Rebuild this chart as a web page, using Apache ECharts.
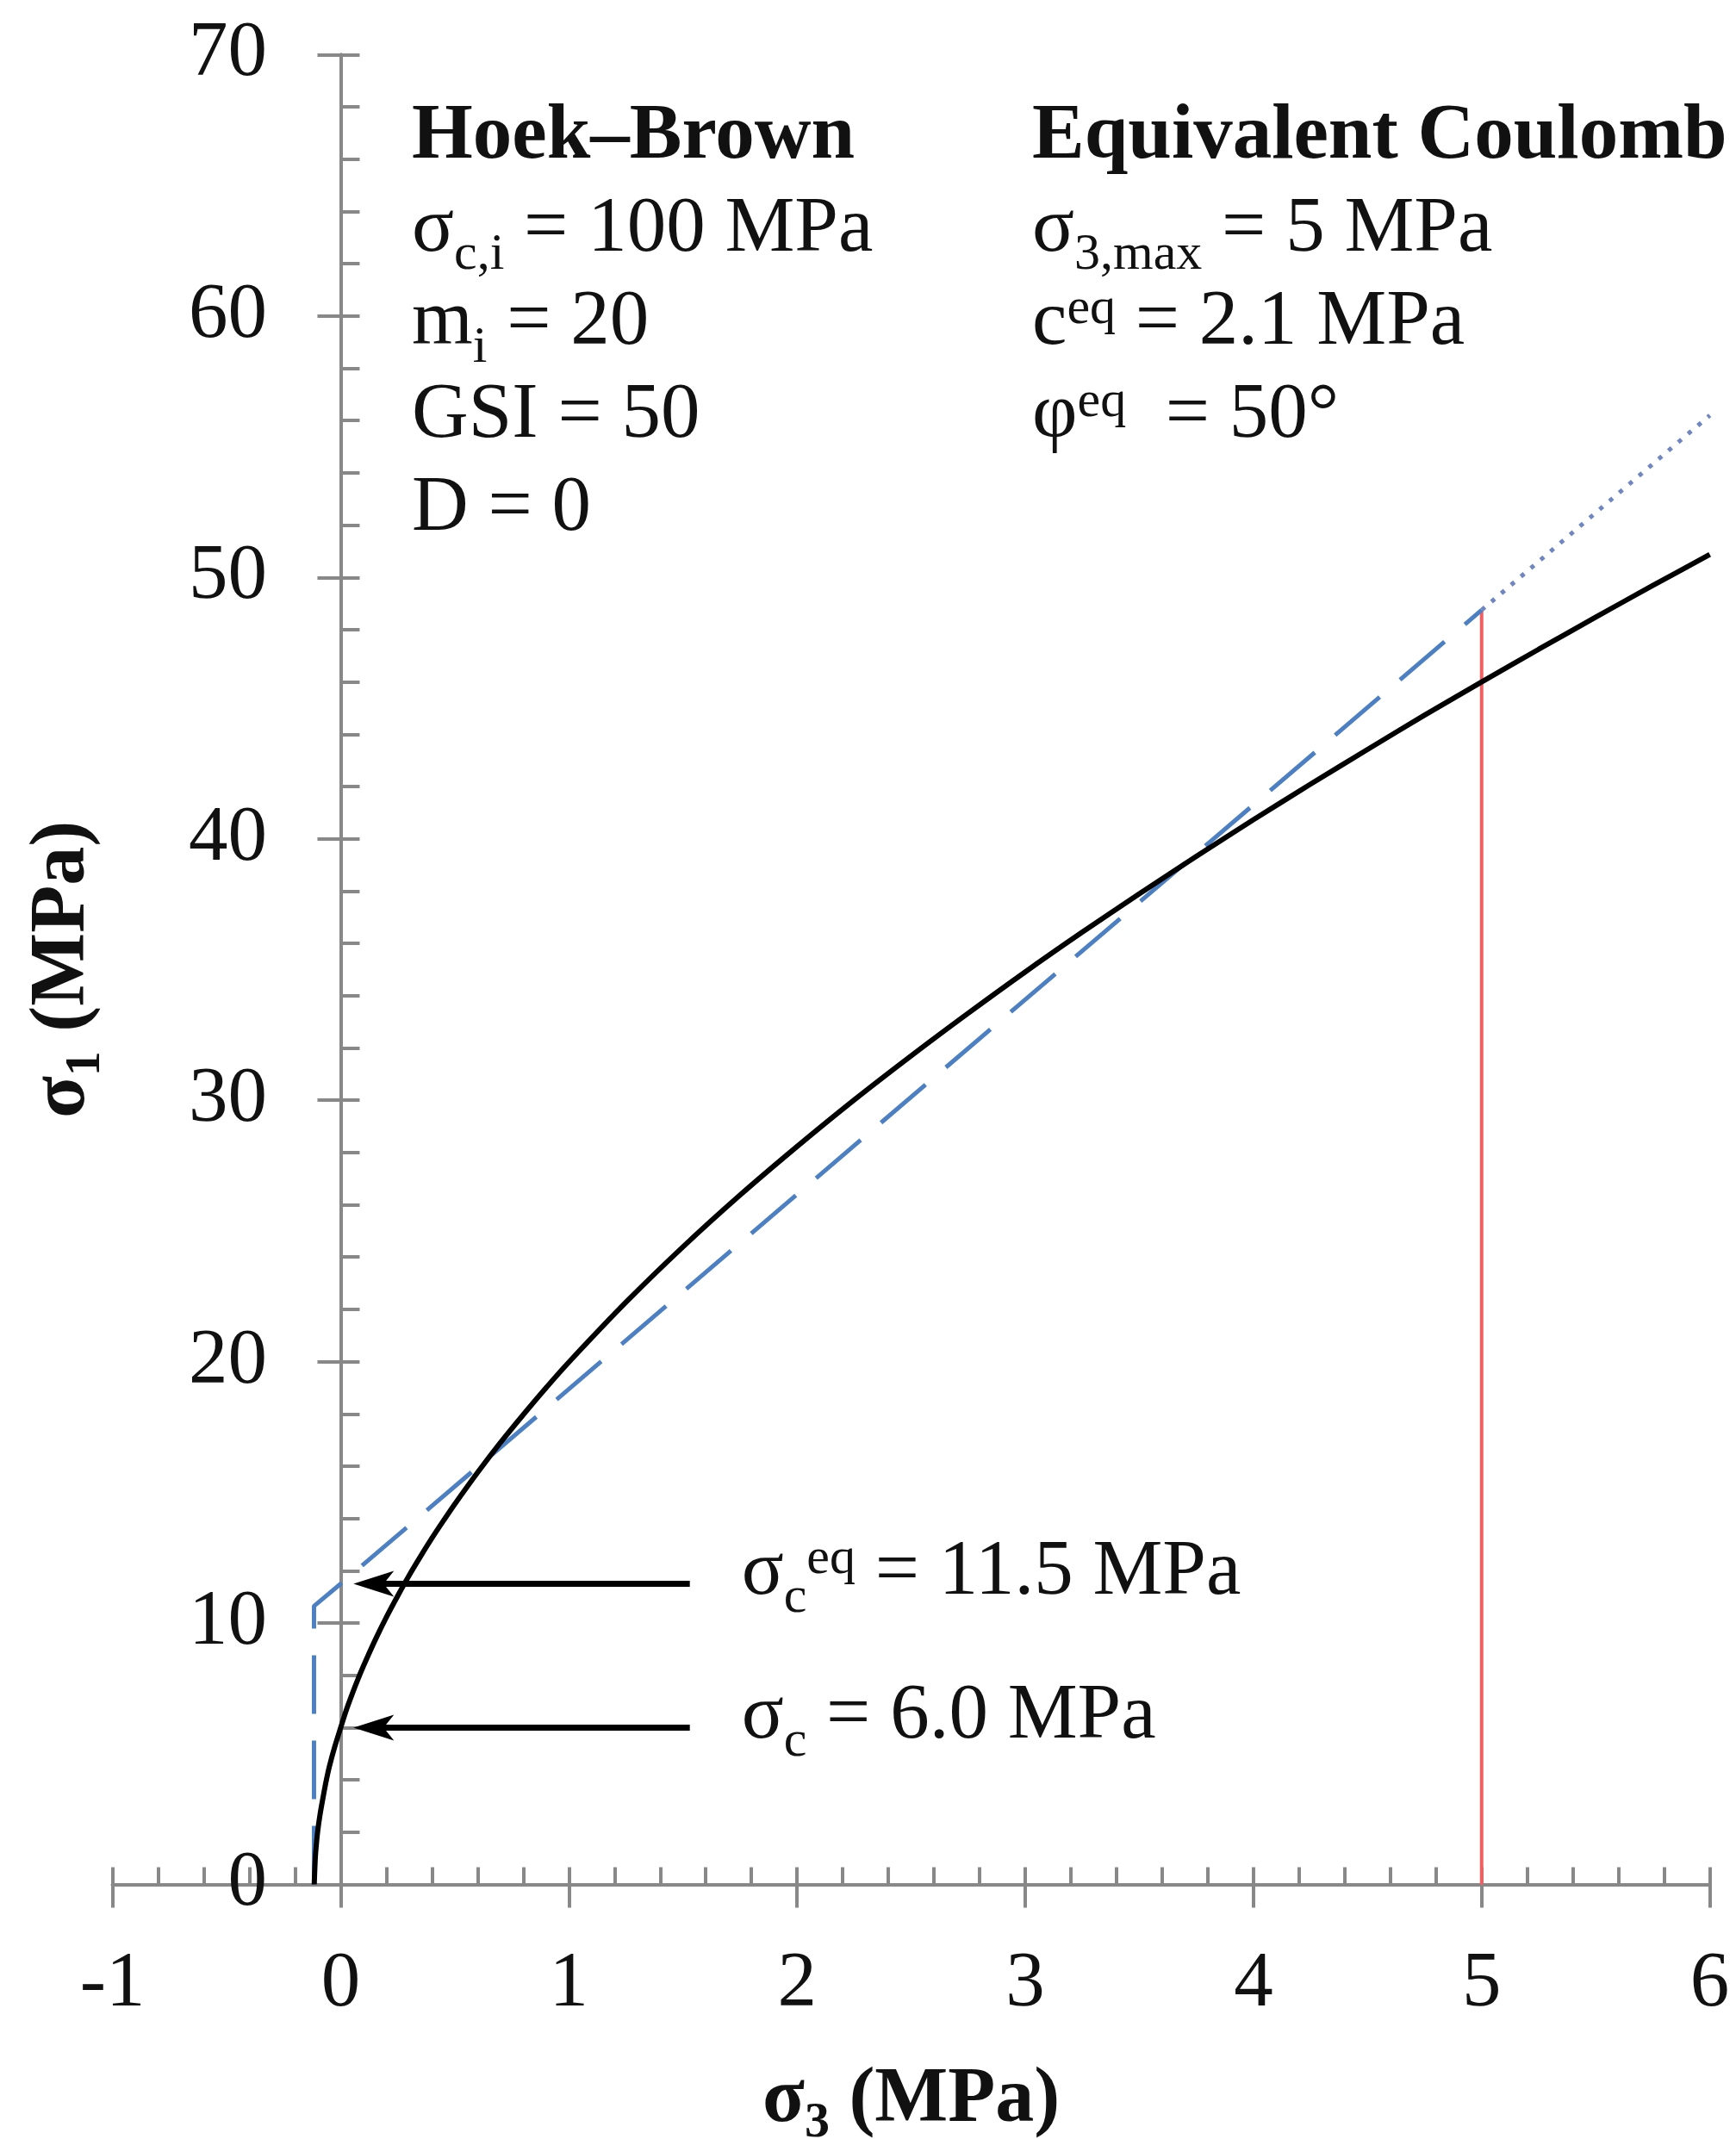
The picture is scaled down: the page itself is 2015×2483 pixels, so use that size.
<!DOCTYPE html>
<html>
<head>
<meta charset="utf-8">
<script src="https://cdn.jsdelivr.net/npm/echarts@6/dist/echarts.min.js"></script>
<style>
  html, body { margin: 0; padding: 0; background: #ffffff; }
  #chart { width: 2015px; height: 2483px; }
</style>
</head>
<body>
<div id="chart"></div>
<script>
// ---- tick values ----
const sigma3Ticks = [-1, 0, 1, 2, 3, 4, 5, 6];
const sigma1Ticks = [0, 10, 20, 30, 40, 50, 60, 70];

// ---- Hoek–Brown failure envelope (σ3, σ1) in MPa ----
const hoekBrownCurve = [
  [-0.116, 0], [-0.114, 0.5], [-0.112, 0.9], [-0.11, 1.2], [-0.105, 1.7],
  [-0.1, 2.1], [-0.09, 2.7], [-0.08, 3.2], [-0.065, 3.9], [-0.05, 4.5],
  [-0.025, 5.3], [0, 6.0], [0.025, 6.68], [0.05, 7.28], [0.075, 7.84],
  [0.1, 8.36], [0.15, 9.33], [0.2, 10.22], [0.25, 11.04], [0.3, 11.82],
  [0.35, 12.55], [0.4, 13.25], [0.45, 13.91], [0.5, 14.55], [0.6, 15.76],
  [0.7, 16.9], [0.8, 17.97], [0.9, 19.0], [1.0, 19.98], [1.25, 22.27],
  [1.5, 24.39], [1.75, 26.37], [2.0, 28.23], [2.25, 30.01], [2.5, 31.7],
  [2.75, 33.33], [3.0, 34.91], [3.25, 36.43], [3.5, 37.9], [3.75, 39.33],
  [4.0, 40.73], [4.25, 42.09], [4.5, 43.42], [4.75, 44.73], [5.0, 46.0],
  [5.25, 47.25], [5.5, 48.48], [5.75, 49.69], [6.0, 50.88]
];

// ---- equivalent Coulomb line with tension cut-off, fitted up to σ3,max ----
const coulombLine = [[-0.117, 0], [-0.117, 10.65], [0, 11.5], [5, 48.75]];
// ---- Coulomb line continued beyond σ3,max ----
const coulombExtension = [[5, 48.75], [6, 56.2]];
// ---- σ3,max marker ----
const sigma3MaxLine = [[5, 0], [5, 48.75]];

// ---- uniaxial strengths pointed at on the σ1 axis ----
const strengthValues = [11.5, 6.0];
const strengthSymbols = ['{m|σ}{sub|c}{sup|eq}', '{m|σ}{sub|c}'];
const arrowTail = 1.53;     // σ3 where the arrow shaft starts
const arrowShaftEnd = 0.15; // σ3 where the shaft meets the head
const arrowTip = 0.056;     // σ3 of the arrow tip

// ---- parameter blocks ----
const hoekBrownLines = [
  '{b|Hoek–Brown}',
  '{m|σ}{sub|c,i}{m| = 100 MPa}',
  '{m|m}{sub|i}{m| = 20}',
  '{m|GSI = 50}',
  '{m|D = 0}'
];
const coulombLines = [
  '{b|Equivalent Coulomb}',
  '{m|σ}{sub|3,max}{m| = 5 MPa}',
  '{m|c}{sup|eq}{m| = 2.1 MPa}',
  '{m|φ}{sup|eq}{m|  = 50°}'
];

// ---- styling ----
const SERIF = '"Liberation Serif", "Times New Roman", Times, serif';
const INK = '#111111';
const AXIS_GRAY = '#888888';
const MID = 0.263;           // canvas "middle" baseline height above the alphabetic baseline (em)
const F = 91;                // body text size
const FS = 60;               // sub/superscript size

// Rich styles that put sub- and superscripts at fixed offsets from the baseline.
function scriptRich(size, subSize, weight, subDrop, supRise) {
  const base = size / 2 + size * MID;
  const subHalf = size - (base + subDrop - subSize * MID);
  const supHalf = base - supRise - subSize * MID;
  const font = { fontFamily: SERIF, color: INK, fill: INK };
  return {
    m: Object.assign({}, font, { fontSize: size, fontWeight: 'normal', lineHeight: size }),
    b: Object.assign({}, font, { fontSize: size, fontWeight: 'bold', lineHeight: size }),
    sub: Object.assign({}, font, { fontSize: subSize, fontWeight: weight, height: 2 * subHalf, lineHeight: 2 * subHalf, verticalAlign: 'bottom' }),
    sup: Object.assign({}, font, { fontSize: subSize, fontWeight: weight, height: 2 * supHalf, lineHeight: 2 * supHalf, verticalAlign: 'top' })
  };
}
const bodyRich = scriptRich(F, FS, 'normal', 21, 24);
const titleRich = scriptRich(90, 58, 'bold', 18, 0);

// Parameter text blocks: one text element per line, placed by baseline.
const colX = [478, 1198];
const firstBaseline = 183;
const lineStep = 108;
function blockElements(lines, x) {
  return lines.map((txt, i) => ({
    type: 'text',
    x: x,
    y: firstBaseline + i * lineStep - (F / 2 + F * MID),
    silent: true,
    style: {
      text: txt,
      rich: bodyRich,
      align: 'left',
      verticalAlign: 'top',
      fill: INK,
      fontFamily: SERIF,
      fontSize: F
    }
  }));
}

const GRID = { left: 130.6, right: 30.4, top: 63.4, bottom: 295.5 };
const axisLine = { color: AXIS_GRAY, width: 4 };
const xRange = { min: sigma3Ticks[0], max: sigma3Ticks[sigma3Ticks.length - 1], interval: sigma3Ticks[1] - sigma3Ticks[0] };
const yRange = { min: sigma1Ticks[0], max: sigma1Ticks[sigma1Ticks.length - 1], interval: sigma1Ticks[1] - sigma1Ticks[0] };
const tickFont = { fontFamily: SERIF, fontSize: F, color: INK };
// arrow head pointing left, tip at the left middle of its box
const ARROW_HEAD = 'path://M0,15 L47,0 L35,15 L47,30 Z';

const chart = echarts.init(document.getElementById('chart'), null, { renderer: 'canvas' });

chart.setOption({
  animation: false,
  backgroundColor: '#ffffff',
  textStyle: { fontFamily: SERIF },
  grid: Object.assign({ containLabel: false, outerBoundsMode: 'none' }, GRID),
  xAxis: [
    {
      type: 'value', position: 'bottom',
      min: xRange.min, max: xRange.max, interval: xRange.interval,
      axisLine: { show: true, onZero: true, lineStyle: axisLine },
      axisTick: { show: true, inside: true, length: 20, lineStyle: axisLine },
      minorTick: { show: true, splitNumber: 5, length: 20, lineStyle: axisLine },
      axisLabel: Object.assign({ show: true, margin: 71, showMinLabel: true, showMaxLabel: true }, tickFont),
      splitLine: { show: false }, minorSplitLine: { show: false },
      name: '{b|σ}{sub|3}{b| (MPa)}',
      nameLocation: 'middle', nameGap: 206, nameMoveOverlap: false,
      nameTextStyle: { fontFamily: SERIF, fontSize: 90, fontWeight: 'bold', color: INK, rich: titleRich }
    },
    {
      type: 'value', position: 'bottom',
      min: xRange.min, max: xRange.max, interval: xRange.interval,
      axisLine: { show: true, onZero: true, onZeroAxisIndex: 0, lineStyle: axisLine },
      axisTick: { show: true, inside: false, length: 27, lineStyle: axisLine },
      minorTick: { show: false },
      axisLabel: { show: false },
      splitLine: { show: false }
    }
  ],
  yAxis: [
    {
      type: 'value', position: 'left',
      min: yRange.min, max: yRange.max, interval: yRange.interval,
      axisLine: { show: true, onZero: true, lineStyle: axisLine },
      axisTick: { show: true, inside: true, length: 22, lineStyle: axisLine },
      minorTick: { show: true, splitNumber: 5, length: 22, lineStyle: axisLine },
      // labels are laid out from the grid's left edge; shift them next to the σ3 = 0 line
      axisLabel: Object.assign({ show: true, margin: GRID.left - 310, padding: [14, 0, 0, 0], showMinLabel: true, showMaxLabel: true }, tickFont),
      splitLine: { show: false }, minorSplitLine: { show: false },
      name: '{b|σ}{sub|1}{b| (MPa)}',
      nameLocation: 'middle', nameGap: GRID.left - 118.3, nameMoveOverlap: false,
      nameTextStyle: { fontFamily: SERIF, fontSize: 90, fontWeight: 'bold', color: INK, rich: titleRich }
    },
    {
      type: 'value', position: 'left',
      min: yRange.min, max: yRange.max, interval: yRange.interval,
      axisLine: { show: true, onZero: true, onZeroAxisIndex: 0, lineStyle: axisLine },
      axisTick: { show: true, inside: false, length: 27, lineStyle: axisLine },
      minorTick: { show: false },
      axisLabel: { show: false },
      splitLine: { show: false }
    }
  ],
  series: [
    {
      name: 'σ3,max', type: 'line', data: sigma3MaxLine,
      showSymbol: false, silent: true,
      lineStyle: { color: '#ef5f63', width: 4 }
    },
    {
      name: 'Equivalent Coulomb', type: 'line', data: coulombLine,
      showSymbol: false, silent: true,
      lineStyle: { color: '#4d80c2', width: 5, type: [68, 31] }
    },
    {
      name: 'Coulomb extension', type: 'line', data: coulombExtension,
      showSymbol: false, silent: true,
      lineStyle: { color: '#6f86c0', width: 5, type: [5, 10] }
    },
    {
      name: 'Hoek–Brown', type: 'line', data: hoekBrownCurve,
      showSymbol: false, silent: true, smooth: 0.3,
      lineStyle: { color: '#000000', width: 6 },
      markLine: {
        silent: true, animation: false,
        symbol: ['none', 'none'],
        lineStyle: { color: '#000000', width: 7, type: 'solid' },
        emphasis: { disabled: true },
        label: {
          show: true, position: 'start', distance: 60,
          padding: [0, 0, 24, 0],
          formatter: (p) => strengthSymbols[p.dataIndex] + '{m| = ' + strengthValues[p.dataIndex].toFixed(1) + ' MPa}',
          rich: bodyRich
        },
        data: strengthValues.map((v) => [
          { coord: [arrowTail, v] },
          { coord: [arrowShaftEnd, v] }
        ])
      },
      markPoint: {
        silent: true, animation: false,
        symbol: ARROW_HEAD,
        symbolSize: [47, 30],
        symbolOffset: ['50%', 0],
        itemStyle: { color: '#000000' },
        label: { show: false },
        emphasis: { disabled: true },
        data: strengthValues.map((v) => ({ coord: [arrowTip, v] }))
      }
    }
  ],
  graphic: blockElements(hoekBrownLines, colX[0]).concat(blockElements(coulombLines, colX[1]))
});
</script>
</body>
</html>
